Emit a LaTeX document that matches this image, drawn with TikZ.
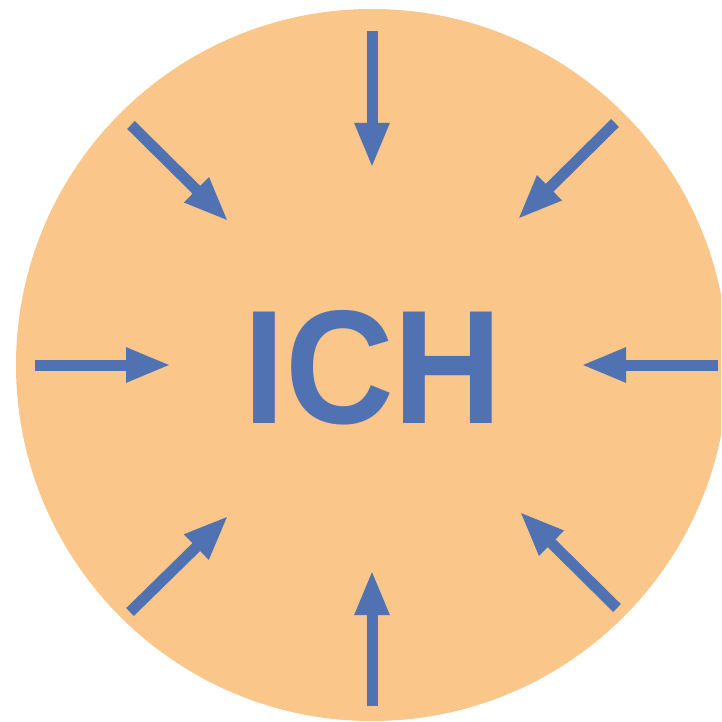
\documentclass[tikz,border=0pt]{standalone}
\usepackage{fontspec}
\setmainfont{Liberation Sans}
\usetikzlibrary{arrows.meta}
\definecolor{bgorange}{HTML}{FAC68A}
\definecolor{icblue}{HTML}{5071B2}
\tikzset{
  inarrow/.style={draw=icblue, line width=11pt, -{Triangle[length=45pt,width=32pt]}, shorten >=-2pt}
}
\begin{document}
\begin{tikzpicture}[x=1pt,y=-1pt]
\useasboundingbox (0,0) rectangle (721,722);
\clip (0,0) rectangle (721,722);
\fill[bgorange] (372,365) circle[radius=356];
\coordinate (t0) at (372,31);  \coordinate (t1) at (372,166);
\coordinate (b0) at (372,706); \coordinate (b1) at (372,572);
\coordinate (l0) at (35,365);  \coordinate (l1) at (169,365);
\coordinate (r0) at (718,365); \coordinate (r1) at (583,365);
\coordinate (tl0) at (131,125); \coordinate (tl1) at (227,220);
\coordinate (tr0) at (615,123); \coordinate (tr1) at (519,218);
\coordinate (bl0) at (130,612); \coordinate (bl1) at (227,517);
\coordinate (br0) at (617,608); \coordinate (br1) at (521,513);
\foreach \a in {t,b,l,r,tl,tr,bl,br}{
  \draw[inarrow] (\a0) -- (\a1);
}
\node[text=icblue, font=\fontsize{162}{170}\selectfont\bfseries, inner sep=0pt] (ich) at (373,368) {\scalebox{0.93}[1]{ICH}};
\end{tikzpicture}
\end{document}
